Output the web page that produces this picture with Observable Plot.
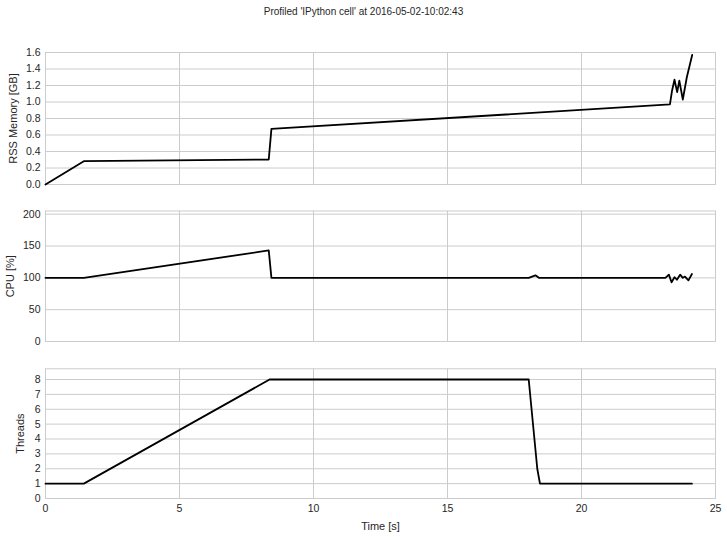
<!DOCTYPE html>
<html><head><meta charset="utf-8">
<script src="https://cdn.jsdelivr.net/npm/d3@7"></script>
<script src="https://cdn.jsdelivr.net/npm/@observablehq/plot@0.6"></script>
<style>
body{margin:0;background:#fff;font-family:"Liberation Sans",Arial,sans-serif;}
#wrap{position:relative;width:727px;height:537px;overflow:hidden;}
#title{position:absolute;top:6px;left:0;width:727px;text-align:center;font-size:10px;color:#262626;}
.p{position:absolute;left:0;}
</style></head><body>
<div id="wrap"><div id="title">Profiled 'IPython cell' at 2016-05-02-10:02:43</div></div>
<script>
// Memory (RSS, GB)
const memTime = [0, 1.43, 8.33, 8.43, 23.3, 23.38, 23.47, 23.57, 23.65, 23.78, 23.93, 24.13];
const memGB   = [0, 0.283, 0.303, 0.675, 0.97, 1.14, 1.27, 1.12, 1.26, 1.03, 1.30, 1.57];
// CPU (%)
const cpuTime = [0, 1.43, 8.33, 8.43, 18.03, 18.28, 18.41, 23.13, 23.26, 23.36, 23.47, 23.56, 23.68, 23.78, 23.86, 23.99, 24.12];
const cpuPct  = [100, 100, 143, 100, 100, 104, 100, 100, 105, 93, 101, 97, 105, 100, 102, 96, 106];
// Threads
const thrTime = [0, 1.43, 8.36, 18.03, 18.35, 18.45, 24.12];
const thrN    = [1, 1, 8, 8, 2, 1, 1];

const xTicks = [0, 5, 10, 15, 20, 25];
const memTicks = [0, 0.2, 0.4, 0.6, 0.8, 1.0, 1.2, 1.4, 1.6];
const cpuTicks = [0, 50, 100, 150, 200];
const thrTicks = [0, 1, 2, 3, 4, 5, 6, 7, 8];

const toRows = (t, v) => t.map((d, i) => ({t: d, v: v[i]}));
const W = 727, ML = 45, MR = 12;
const grid = "#cccccc", ink = "#262626";

function panel({rows, yDomain, yTicks, yFormat, yLabel, labelOffset, top, mt, frameH, mb, showX}) {
  const p = Plot.plot({
    width: W, height: mt + frameH + mb,
    marginLeft: ML, marginRight: MR, marginTop: mt, marginBottom: mb,
    style: {fontFamily: "'Liberation Sans', Arial, sans-serif", fontSize: "10px", color: ink, background: "transparent", overflow: "visible"},
    x: {domain: [0, 25]},
    y: {domain: yDomain},
    marks: [
      Plot.gridX(xTicks, {stroke: grid, strokeOpacity: 1, strokeWidth: 1}),
      Plot.gridY(yTicks, {stroke: grid, strokeOpacity: 1, strokeWidth: 1}),
      Plot.frame({stroke: grid, strokeWidth: 1}),
      Plot.axisY({ticks: yTicks, tickSize: 0, tickPadding: 5, tickFormat: yFormat, label: null, fill: ink, fontSize: 10.5}),
      Plot.axisY({ticks: [], label: yLabel, labelAnchor: "center", labelArrow: "none", labelOffset, fill: ink, fontSize: 11}),
      showX
        ? Plot.axisX({ticks: xTicks, tickSize: 0, tickPadding: 6, label: null, fill: ink, fontSize: 10.5})
        : Plot.axisX({ticks: [], label: null}),
      showX
        ? Plot.axisX({ticks: [], label: "Time [s]", labelAnchor: "center", labelArrow: "none", labelOffset: 31, fill: ink, fontSize: 11})
        : null,
      Plot.line(rows, {x: "t", y: "v", stroke: "black", strokeWidth: 1.8, curve: "linear"})
    ]
  });
  p.classList.add("p");
  p.style.top = top + "px";
  document.getElementById("wrap").appendChild(p);
}

panel({rows: toRows(memTime, memGB), yDomain: [0, 1.6], yTicks: memTicks, yFormat: d3.format(".1f"),
  yLabel: "RSS Memory [GB]", labelOffset: 36, top: 40, mt: 12, frameH: 132, mb: 5, showX: false});
panel({rows: toRows(cpuTime, cpuPct), yDomain: [0, 205], yTicks: cpuTicks, yFormat: d3.format("d"),
  yLabel: "CPU [%]", labelOffset: 39, top: 200, mt: 10.5, frameH: 130.5, mb: 5, showX: false});
panel({rows: toRows(thrTime, thrN), yDomain: [0, 8.72], yTicks: thrTicks, yFormat: d3.format("d"),
  yLabel: "Threads", labelOffset: 29, top: 358, mt: 10.3, frameH: 129.7, mb: 39, showX: true});
</script>
</body></html>
